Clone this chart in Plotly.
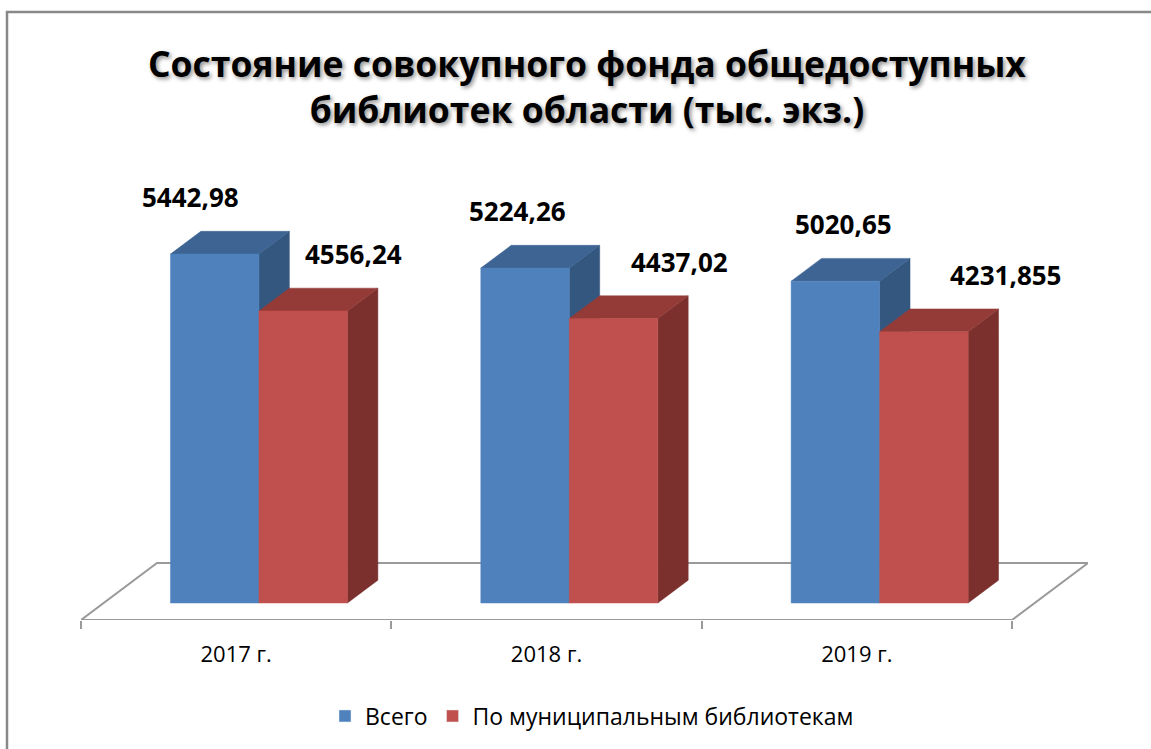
import plotly.graph_objects as go

categories = ["2017 г.", "2018 г.", "2019 г."]
series_names = ["Всего", "По муниципальным библиотекам"]
total = [5442.98, 5224.26, 5020.65]
municipal = [4556.24, 4437.02, 4231.855]
title_text = "Состояние совокупного фонда общедоступных<br>библиотек области (тыс. экз.)"

front_colors = ["#4F81BD", "#C0504D"]
top_colors = ["#3D6493", "#943B38"]
side_colors = ["#34577F", "#7C302E"]

# page / plot area in pixels
W, H = 1151, 749
n = len(categories)
L, T, B = 81, 160, 129
cat_px = 931 / n            # width of one category on the front edge
floor_px = (76, 57)         # floor depth offset (right, up)
R = W - L - 931 - floor_px[0]
plot_w = W - L - R
plot_h = H - T - B

# y scale: pixels per value unit, floor below the zero line
PXU = 0.0641
y_lo = -17 / PXU
y_hi = y_lo + plot_h / PXU

# fake 3d: floor depth and bar depth
floor_dx = floor_px[0] / cat_px
floor_dy = floor_px[1] / PXU
bar_pos = 0.3      # bars start this far back on the floor
bar_depth = 0.40   # bars are this deep
bar_w = 88.5 / cat_px
ddx = bar_depth * floor_dx
ddy = bar_depth * floor_dy

fig = go.Figure()

# floor
fx = [-0.5, n - 0.5, n - 0.5 + floor_dx, -0.5 + floor_dx, -0.5]
fy = [y_lo, y_lo, y_lo + floor_dy, y_lo + floor_dy, y_lo]
fig.add_trace(go.Scatter(x=fx, y=fy, mode="lines", fill="toself", fillcolor="white",
                         line=dict(color="#9A9A9A", width=2), hoverinfo="skip", showlegend=False))

for s, vals in enumerate([total, municipal]):
    fr_x, fr_y, tp_x, tp_y, sd_x, sd_y = [], [], [], [], [], []
    for i, v in enumerate(vals):
        x0 = i + bar_pos * floor_dx - bar_w + s * bar_w
        x1 = x0 + bar_w
        fr_x += [x0, x1, x1, x0, x0, None]
        fr_y += [0, 0, v, v, 0, None]
        tp_x += [x0, x1, x1 + ddx, x0 + ddx, x0, None]
        tp_y += [v, v, v + ddy, v + ddy, v, None]
        sd_x += [x1, x1 + ddx, x1 + ddx, x1, x1, None]
        sd_y += [0, ddy, v + ddy, v, 0, None]
    for xs, ys, c in [(sd_x, sd_y, side_colors[s]), (tp_x, tp_y, top_colors[s]), (fr_x, fr_y, front_colors[s])]:
        fig.add_trace(go.Scatter(x=xs, y=ys, mode="lines", fill="toself", fillcolor=c,
                                 line=dict(color=c, width=0.5), hoverinfo="skip", showlegend=False))
    # legend entry
    fig.add_trace(go.Bar(x=[None], y=[None], name=series_names[s], marker_color=front_colors[s]))

    # data labels
    base_shift = [-24, 50][s]
    for i, v in enumerate(vals):
        xc = i + bar_pos * floor_dx - bar_w / 2 + s * bar_w
        fig.add_annotation(x=xc, y=v, text=str(v).replace(".", ","), showarrow=False,
                           xshift=base_shift + 16 * i, yshift=57,
                           font=dict(family="Open Sans", size=26, color="black", weight="bold"))

fig.add_annotation(xref="paper", yref="paper", x=(587 - L) / plot_w, y=(H - B - 86) / plot_h,
                   xanchor="center", yanchor="middle",
                   text=title_text, showarrow=False,
                   font=dict(family="Open Sans", size=35.5, color="black", weight="bold",
                             shadow="2px 2px 4px rgba(0,0,0,0.45)"))

# chart border (runs off the right and bottom edge)
fig.add_shape(type="rect", xref="paper", yref="paper",
              x0=(7 - L) / plot_w, x1=(W + 20 - L) / plot_w,
              y0=-(H + 20 - (H - B)) / plot_h, y1=(H - B - 12) / plot_h,
              line=dict(color="#888888", width=2.5), fillcolor="rgba(0,0,0,0)")

fig.update_xaxes(range=[-0.5, n - 0.5 + floor_dx], tickvals=list(range(n)), ticktext=categories,
                 ticks="", showgrid=False, zeroline=False, showline=False,
                 ticklabelstandoff=19,
                 tickfont=dict(family="Open Sans", size=22, color="black"),
                 minor=dict(tickvals=[i - 0.5 for i in range(n + 1)], ticks="outside",
                            ticklen=8, tickwidth=2, tickcolor="#9A9A9A", showgrid=False))
fig.update_yaxes(range=[y_lo, y_hi], visible=False, showgrid=False, zeroline=False)

fig.update_layout(
    width=W, height=H,
    margin=dict(l=L, r=R, t=T, b=B),
    paper_bgcolor="white", plot_bgcolor="white",
    showlegend=True,
    legend=dict(orientation="h", x=(592 - L) / plot_w, xanchor="center",
                y=-(716 - (H - B)) / plot_h, yanchor="middle",
                font=dict(family="Open Sans", size=23, color="black"),
                itemwidth=30),
)

fig.write_html("out.html", config={"displayModeBar": False},
               post_script="document.body.style.margin='0';document.body.style.overflow='hidden';")
